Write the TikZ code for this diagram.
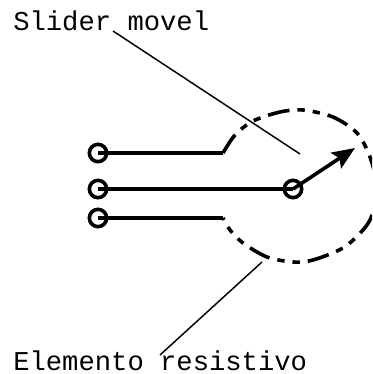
\documentclass[tikz,border=0pt]{standalone}
\usepackage{fontspec}
\setmonofont{Liberation Mono}
\usetikzlibrary{arrows.meta}
\tikzset{
  terminal/.style={circle, draw, line width=2.7pt, minimum size=13pt, inner sep=0pt},
  wire/.style={line width=2.7pt},
  leader/.style={line width=1.1pt},
  label/.style={anchor=base west, inner sep=0pt, font=\ttfamily\fontsize{20.4}{24}\selectfont}
}

\begin{document}
\begin{tikzpicture}[x=0.75pt,y=-0.75pt]
\useasboundingbox (0,0) rectangle (372,374);
\clip (0,0) rectangle (372,374);

% Labels
\node[label] (slidertxt) at (13,31) {Slider movel};
\node[label] (elementotxt) at (13,370) {Elemento resistivo};

% Terminals
\node[terminal] (t1) at (98,153) {};
\node[terminal] (t2) at (98,189) {};
\node[terminal] (t3) at (98,218) {};
\node[terminal] (pivot) at (293,189) {};

% Wire ends
\coordinate (e1) at (223,153);
\coordinate (e3) at (223,218);
\coordinate (tip) at (355,148);

% Leads
\draw[wire] (t1.center) -- (e1);
\draw[wire] (t2.center) -- (pivot.center);
\draw[wire] (t3.center) -- (e3);

% Wiper
\draw[wire, -{Stealth[length=17pt,width=14pt,inset=3pt]}] (pivot.center) -- (tip);

% Resistive track (hand-drawn look)
\draw[wire, dash pattern=on 16.5pt off 6pt on 5.5pt off 6pt on 5.5pt off 6pt]
plot[smooth] coordinates {
(e1) (235,135) (253,121) (280,112) (303,110) (333,117) (357,133)
(370,157) (377,187) (372,215) (363,230) (343,248)
(313,260) (293,262) (267,257) (243,243) (230,230) (e3)
};

% Leader lines
\coordinate (sliderend) at (300,154);
\coordinate (sliderstart) at (113,31);
\coordinate (elemstart) at (262,262);
\coordinate (elemend) at (160,355);
\draw[leader] (sliderstart) -- (sliderend);
\draw[leader] (elemstart) -- (elemend);

\end{tikzpicture}
\end{document}
